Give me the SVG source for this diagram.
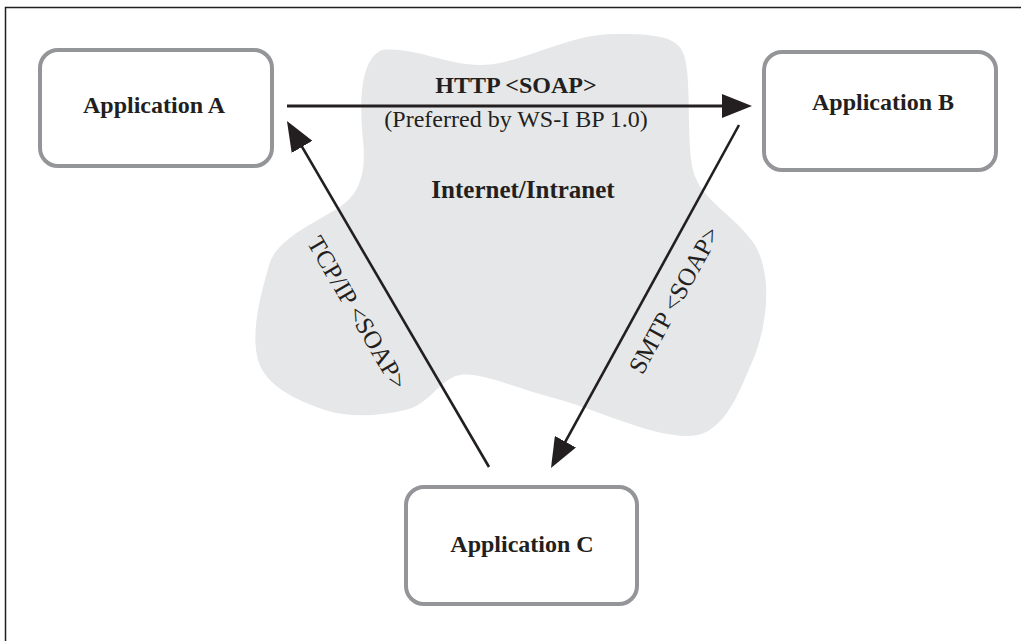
<svg xmlns="http://www.w3.org/2000/svg" width="1021" height="641" viewBox="0 0 1021 641">
  <defs>
    <style>
      .frame { stroke: #231f20; stroke-width: 1.5; fill: none; }
      .box { fill: #ffffff; stroke: #939598; stroke-width: 4; }
      .title { font-family: "Liberation Serif", "Times New Roman", serif; font-weight: bold; font-size: 24px; fill: #231f20; text-anchor: middle; }
      .label { font-family: "Liberation Serif", "Times New Roman", serif; font-size: 25px; fill: #231f20; text-anchor: middle; }
      .conn { stroke: #231f20; stroke-width: 2.6; fill: none; marker-end: url(#arrow); }
    </style>
    <marker id="arrow" markerUnits="userSpaceOnUse" viewBox="0 0 30 24" refX="20" refY="12" markerWidth="30" markerHeight="24" orient="auto">
      <path d="M0,0 L30,12 L0,24 Z" fill="#231f20"/>
    </marker>
  </defs>

  <rect width="1021" height="641" fill="#ffffff"/>
  <path class="frame" d="M5.5,641 L5.5,7.5 L1021,7.5"/>

  <g id="cloud">
    <path fill="#e6e7e8" d="M382,50 C420,46 455,72 500,63 C540,54 575,34 615,34 C655,34 678,36 684,55 C692,80 686,140 693,170 C700,200 735,215 755,245 C772,275 768,320 755,355 C740,390 725,435 690,436 C650,437 600,410 550,397 C510,386 480,372 460,375 C440,378 430,405 405,410 C380,416 350,418 325,410 C295,400 265,385 258,360 C250,330 262,290 270,262 C278,240 310,225 335,210 C362,195 366,170 363,140 C360,110 358,60 382,50 Z"/>
    <text class="title" x="523" y="198" style="font-size:25px">Internet/Intranet</text>
  </g>

  <g id="connectors">
    <g id="http">
      <line class="conn" x1="287" y1="106" x2="742" y2="106" style="stroke-width:2.8"/>
      <text class="title" x="516" y="93">HTTP &lt;SOAP&gt;</text>
      <text class="label" x="516" y="127" style="font-size:24px">(Preferred by WS-I BP 1.0)</text>
    </g>
    <g id="tcp">
      <line class="conn" x1="489" y1="467" x2="292" y2="129.6"/>
      <text class="label" transform="translate(350,317) rotate(59.7)">TCP/IP &lt;SOAP&gt;</text>
    </g>
    <g id="smtp">
      <line class="conn" x1="739" y1="125" x2="555.8" y2="459.2"/>
      <text class="label" transform="translate(681.5,304) rotate(-61.3)">SMTP &lt;SOAP&gt;</text>
    </g>
  </g>

  <g id="appA">
    <rect class="box" x="40" y="50" width="232" height="116" rx="18"/>
    <text class="title" x="154" y="113">Application A</text>
  </g>
  <g id="appB">
    <rect class="box" x="764" y="52" width="232" height="118" rx="18"/>
    <text class="title" x="883" y="110">Application B</text>
  </g>
  <g id="appC">
    <rect class="box" x="406" y="487" width="231" height="117" rx="18"/>
    <text class="title" x="522" y="552">Application C</text>
  </g>
</svg>
